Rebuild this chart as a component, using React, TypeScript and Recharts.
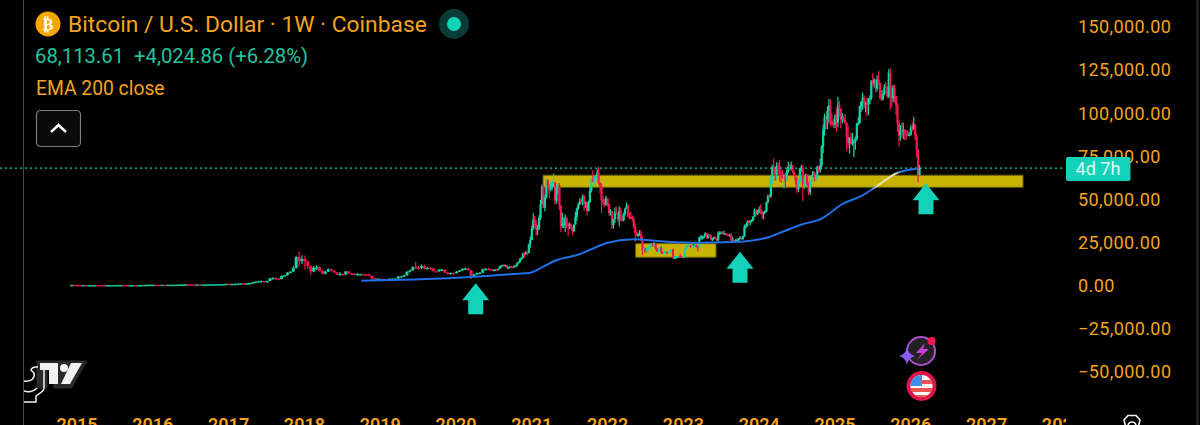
import React from 'react';
import { ComposedChart, Bar, Line, XAxis, YAxis, ReferenceArea, ReferenceLine, ReferenceDot } from 'recharts';

// prices are in thousands of USD
const UP = '#17d1a7';
const DOWN = '#f0174f';
const ORANGE = '#f5a31f';
const TEAL = '#12d3b9';

const priceTicks = [150, 125, 100, 75, 50, 25, 0, -25, -50];
const yearTicks = [2015, 2016, 2017, 2018, 2019, 2020, 2021, 2022, 2023, 2024, 2025, 2026, 2027, 2028];

// two-week candles, end of 2014 to mid 2020
const earlyStart = 2014.93;
const earlyCloses = [
  0.37, 0.32,
  0.27, 0.22, 0.25, 0.24, 0.24, 0.27, 0.28, 0.25, 0.24, 0.22, 0.24, 0.24, 0.24, 0.25, 0.28, 0.29, 0.28, 0.23, 0.23, 0.25, 0.24, 0.24, 0.32, 0.36, 0.42, 0.43,
  0.43, 0.38, 0.37, 0.43, 0.41, 0.42, 0.42, 0.44, 0.46, 0.53, 0.58, 0.68, 0.66, 0.65, 0.58, 0.59, 0.57, 0.61, 0.61, 0.63, 0.65, 0.7, 0.74, 0.75, 0.79, 0.96,
  0.9, 0.92, 1.0, 1.15, 1.25, 1.1, 1.2, 1.35, 1.8, 2.2, 2.5, 2.6, 2.5, 2.6, 4.1, 4.3, 4.0, 3.8, 5.6, 6.0, 7.4, 8.0, 10.0, 16.5, 14.0, 15.5,
  14.0, 11.2, 8.2, 10.3, 10.5, 8.5, 6.9, 8.0, 9.4, 8.7, 7.6, 6.4, 6.7, 6.4, 8.2, 7.0, 6.9, 6.5, 6.6, 6.6, 6.5, 6.4, 5.6, 4.0, 3.4, 3.9,
  3.6, 3.6, 3.5, 3.9, 3.9, 4.0, 5.2, 5.3, 5.8, 8.0, 8.7, 10.7, 10.5, 10.3, 11.3, 9.7, 10.2, 10.0, 8.3, 8.2, 9.2, 9.2, 7.4, 7.2, 7.3, 7.2,
  8.0, 8.7, 9.7, 9.9, 8.9, 5.2, 6.4, 7.2, 7.5, 9.3, 9.7, 9.3, 9.1,
];
const earlyHighs = [
  0.4, 0.36,
  0.34, 0.28, 0.27, 0.26, 0.26, 0.3, 0.3, 0.29, 0.26, 0.26, 0.25, 0.25, 0.25, 0.26, 0.3, 0.32, 0.3, 0.29, 0.25, 0.26, 0.26, 0.26, 0.34, 0.4, 0.5, 0.47,
  0.46, 0.44, 0.4, 0.45, 0.44, 0.44, 0.44, 0.46, 0.47, 0.55, 0.6, 0.78, 0.7, 0.68, 0.67, 0.62, 0.6, 0.62, 0.63, 0.64, 0.66, 0.72, 0.75, 0.78, 0.8, 0.98,
  1.15, 0.95, 1.03, 1.2, 1.3, 1.25, 1.25, 1.4, 1.9, 2.3, 2.8, 2.95, 2.75, 2.8, 4.4, 4.9, 4.8, 4.3, 5.9, 6.2, 7.8, 8.3, 11.2, 17.2, 19.8, 17.5,
  17.3, 14.3, 11.7, 11.3, 11.8, 10.9, 9.0, 8.6, 10.0, 9.9, 8.9, 7.7, 7.8, 6.9, 8.3, 8.3, 7.4, 7.1, 7.3, 6.9, 6.8, 6.6, 6.6, 5.7, 4.4, 4.2,
  4.0, 3.8, 3.7, 4.2, 4.2, 4.2, 5.4, 5.6, 6.3, 8.3, 9.2, 11.2, 13.8, 11.4, 12.3, 12.1, 10.9, 10.9, 10.4, 8.6, 9.4, 9.7, 9.5, 7.7, 7.5, 7.6,
  8.4, 8.9, 9.9, 10.5, 10.3, 9.2, 6.9, 7.5, 7.7, 9.9, 10.0, 10.4, 9.5,
];
const earlyLows = [
  0.35, 0.31,
  0.17, 0.21, 0.21, 0.22, 0.23, 0.24, 0.24, 0.24, 0.22, 0.21, 0.22, 0.23, 0.23, 0.23, 0.25, 0.27, 0.27, 0.22, 0.21, 0.22, 0.23, 0.23, 0.24, 0.31, 0.36, 0.4,
  0.4, 0.36, 0.36, 0.37, 0.39, 0.41, 0.41, 0.41, 0.44, 0.45, 0.52, 0.57, 0.62, 0.63, 0.53, 0.56, 0.55, 0.57, 0.6, 0.6, 0.62, 0.63, 0.69, 0.7, 0.73, 0.78,
  0.75, 0.88, 0.9, 0.98, 1.1, 1.05, 1.05, 1.15, 1.3, 1.7, 2.1, 2.2, 2.2, 2.3, 2.6, 3.9, 3.6, 3.0, 3.6, 5.3, 5.6, 7.1, 7.8, 10.0, 11.0, 12.5,
  9.4, 9.6, 6.0, 7.7, 9.0, 7.9, 6.5, 6.4, 7.8, 8.2, 7.1, 6.1, 5.8, 6.0, 6.1, 6.8, 6.4, 6.2, 6.1, 6.3, 6.2, 6.2, 5.3, 3.4, 3.2, 3.2,
  3.4, 3.4, 3.3, 3.4, 3.7, 3.8, 3.9, 5.0, 5.2, 5.8, 7.5, 8.6, 9.6, 9.1, 9.4, 9.3, 9.5, 9.4, 8.1, 7.8, 8.0, 8.9, 7.3, 6.5, 6.5, 6.9,
  6.9, 8.0, 8.5, 9.6, 8.6, 3.8, 5.0, 6.2, 6.6, 7.0, 8.8, 9.2, 8.9,
];

// weekly candles from mid 2020, one set per year
const closes2020 = [9.1, 9.3, 9.2, 9.7, 11.0, 11.3, 11.9, 11.6, 11.7, 10.2, 10.3, 11.1, 10.7, 10.6, 11.3, 11.4, 13.1, 13.8, 15.5, 16.0, 18.7, 18.2, 19.2, 18.8, 23.8, 26.4];
const highs2020 = [9.4, 9.4, 9.4, 9.8, 11.4, 11.9, 12.1, 12.5, 12.1, 11.8, 10.6, 11.2, 11.2, 10.9, 11.7, 11.7, 13.2, 13.9, 15.9, 16.5, 18.9, 19.4, 19.9, 19.5, 24.3, 28.4];
const lows2020 = [8.9, 8.9, 9.0, 9.0, 9.6, 10.6, 11.1, 11.3, 11.1, 9.9, 9.9, 10.2, 10.1, 10.4, 10.5, 11.2, 11.3, 12.8, 13.2, 14.8, 15.7, 16.2, 17.6, 17.6, 18.7, 21.9];

const closes2021 = [33.0, 38.2, 35.8, 32.3, 33.1, 39.2, 47.2, 57.5, 45.2, 50.9, 61.0, 58.1, 55.8, 58.7, 59.8, 60.0, 49.1, 56.6, 58.2, 46.4, 34.7, 35.6, 35.8, 39.0, 35.6, 34.6, 35.3, 34.2, 31.5, 35.4, 39.9, 44.6, 47.0, 49.0, 48.8, 51.7, 48.3, 48.3, 43.2, 48.2, 55.0, 61.5, 60.9, 61.3, 63.2, 65.5, 59.7, 57.3, 49.4, 49.3, 46.9, 50.8];
const highs2021 = [34.8, 42.0, 40.1, 38.0, 34.9, 40.9, 49.7, 58.4, 58.3, 52.6, 61.8, 61.7, 58.7, 60.1, 61.2, 64.9, 57.5, 58.5, 59.6, 59.5, 46.7, 42.2, 39.4, 41.3, 39.6, 36.5, 36.6, 35.9, 33.3, 35.4, 42.7, 45.2, 48.0, 50.6, 50.5, 52.9, 52.9, 48.8, 48.5, 49.2, 57.9, 62.9, 66.9, 63.6, 64.2, 67.8, 69.0, 60.0, 59.2, 51.9, 50.2, 52.0];
const lows2021 = [28.0, 32.2, 33.4, 28.9, 29.2, 32.3, 38.0, 47.0, 44.9, 43.0, 50.3, 53.2, 50.5, 54.6, 55.5, 59.0, 47.0, 47.5, 53.0, 43.8, 31.0, 33.3, 33.4, 31.0, 33.3, 28.8, 32.7, 32.2, 29.3, 31.0, 35.5, 37.5, 43.8, 46.6, 47.0, 46.5, 43.4, 45.0, 40.7, 42.9, 48.0, 54.0, 60.0, 58.0, 60.0, 62.3, 58.4, 53.3, 42.0, 46.5, 45.6, 46.4];

const closes2022 = [47.3, 42.0, 43.1, 35.0, 38.4, 42.4, 42.2, 38.4, 43.2, 38.4, 37.8, 41.3, 44.5, 46.4, 40.0, 39.7, 39.5, 38.5, 34.3, 30.3, 29.4, 29.4, 29.9, 26.6, 20.5, 21.0, 19.3, 20.9, 21.2, 22.6, 23.6, 23.2, 24.3, 21.5, 19.6, 20.0, 21.8, 19.4, 18.8, 19.0, 19.4, 19.3, 19.6, 20.6, 20.9, 16.3, 16.3, 16.4, 17.1, 17.1, 16.8, 16.5];
const highs2022 = [48.5, 47.6, 44.4, 43.5, 38.7, 45.4, 45.8, 40.5, 45.9, 45.1, 40.4, 42.3, 45.0, 48.2, 47.2, 42.4, 42.9, 40.8, 40.0, 35.9, 32.0, 30.7, 32.2, 31.8, 28.2, 21.9, 22.0, 21.7, 22.8, 24.3, 24.7, 24.6, 25.2, 24.4, 21.8, 20.8, 22.7, 22.8, 19.7, 20.4, 20.0, 20.0, 19.7, 21.0, 21.0, 21.5, 17.2, 16.9, 17.2, 17.4, 18.4, 16.9];
const lows2022 = [45.5, 40.5, 40.6, 33.0, 33.0, 36.3, 41.5, 36.8, 34.3, 37.5, 37.2, 37.2, 40.5, 45.0, 39.8, 38.5, 38.5, 37.6, 33.0, 25.4, 28.7, 28.0, 28.8, 25.9, 17.6, 19.6, 18.8, 19.0, 20.7, 21.0, 22.5, 22.7, 23.0, 20.8, 19.5, 18.6, 19.5, 18.2, 18.2, 18.6, 18.7, 18.2, 18.5, 19.0, 20.1, 15.6, 15.5, 15.5, 16.0, 16.7, 16.3, 16.4];

const closes2023 = [16.7, 20.9, 22.7, 23.1, 23.4, 22.9, 24.3, 23.2, 23.5, 22.4, 22.0, 27.9, 28.0, 28.4, 28.4, 30.3, 27.8, 29.2, 28.9, 26.9, 27.0, 28.1, 27.1, 26.3, 30.5, 30.5, 30.6, 30.3, 30.3, 30.0, 29.3, 29.0, 29.3, 26.0, 26.0, 25.8, 26.5, 26.5, 27.0, 27.9, 26.9, 28.5, 34.1, 34.5, 37.0, 36.5, 37.4, 37.7, 39.9, 43.8, 41.4, 42.3];
const highs2023 = [16.9, 21.3, 23.3, 23.8, 24.2, 23.5, 25.0, 25.2, 24.0, 23.9, 22.5, 28.4, 29.2, 29.2, 28.8, 30.9, 30.5, 30.0, 29.9, 29.8, 27.6, 28.5, 28.4, 27.4, 31.4, 31.4, 31.4, 31.5, 31.8, 30.4, 30.3, 29.7, 30.2, 30.2, 28.1, 26.4, 26.9, 27.4, 27.5, 28.6, 28.3, 28.9, 35.3, 35.9, 38.0, 37.9, 37.9, 38.4, 40.2, 44.7, 44.4, 43.8];
const lows2023 = [16.3, 16.7, 20.8, 22.3, 22.5, 21.7, 21.4, 23.0, 21.9, 21.9, 19.6, 22.0, 26.6, 26.5, 27.2, 28.3, 27.2, 27.1, 27.7, 26.3, 26.0, 26.6, 26.9, 25.4, 25.0, 29.5, 30.0, 29.9, 29.6, 29.1, 29.0, 28.9, 28.7, 25.4, 25.4, 25.3, 25.1, 26.4, 26.0, 26.6, 26.6, 26.5, 28.1, 33.4, 34.1, 36.3, 34.9, 36.7, 37.6, 39.9, 40.5, 41.0];

const closes2024 = [44.2, 42.8, 41.6, 42.0, 43.0, 48.3, 52.1, 51.7, 62.0, 68.9, 68.4, 64.0, 69.6, 69.3, 65.7, 64.9, 63.4, 64.0, 60.9, 66.3, 69.0, 67.7, 69.6, 66.2, 64.0, 60.9, 55.9, 60.8, 68.1, 68.3, 58.1, 58.7, 64.2, 59.1, 54.1, 60.0, 63.4, 65.7, 62.8, 62.9, 69.0, 67.0, 69.5, 80.4, 90.5, 97.7, 96.4, 101.2, 104.5, 95.2, 93.7, 93.4];
const highs2024 = [45.9, 47.0, 43.5, 42.9, 43.9, 48.6, 52.8, 52.9, 64.0, 70.1, 73.8, 68.9, 71.6, 71.3, 72.8, 66.9, 67.2, 64.7, 65.5, 67.4, 71.9, 70.6, 71.9, 70.0, 66.7, 63.8, 62.9, 61.4, 68.4, 70.0, 69.9, 62.0, 65.0, 64.9, 59.9, 60.7, 64.1, 66.5, 66.0, 64.5, 69.5, 69.5, 73.6, 81.5, 93.4, 99.8, 98.9, 104.0, 108.3, 108.0, 99.9, 96.4];
const lows2024 = [42.2, 41.4, 38.5, 38.5, 41.9, 42.5, 47.7, 50.5, 50.9, 59.2, 64.5, 60.8, 61.6, 64.5, 60.6, 59.6, 62.0, 56.5, 56.9, 60.5, 65.2, 66.6, 66.6, 65.1, 63.4, 58.5, 53.5, 54.3, 59.6, 66.0, 49.1, 56.2, 57.8, 57.9, 52.6, 52.5, 57.6, 62.6, 60.4, 59.8, 62.1, 65.3, 65.5, 67.5, 76.8, 87.1, 90.8, 90.7, 94.1, 92.3, 92.5, 91.3];

const closes2025 = [98.3, 94.5, 104.5, 102.6, 96.4, 97.5, 96.1, 94.3, 86.2, 82.6, 86.0, 82.4, 83.5, 83.7, 85.2, 93.7, 94.3, 104.2, 106.5, 109.0, 105.7, 105.7, 105.6, 108.3, 108.9, 119.0, 117.3, 119.4, 114.2, 119.3, 117.4, 108.3, 108.2, 111.1, 115.4, 115.3, 109.7, 123.5, 115.0, 108.6, 114.5, 110.1, 104.7, 94.2, 87.0, 90.4, 89.3, 90.3, 88.1, 87.8, 87.5, 87.6];
const highs2025 = [99.5, 102.7, 109.6, 107.1, 102.5, 100.1, 98.8, 99.5, 95.0, 92.8, 85.3, 88.7, 88.6, 84.7, 86.4, 94.5, 97.9, 104.4, 107.1, 111.9, 110.4, 106.7, 108.9, 108.8, 110.5, 119.0, 123.2, 120.2, 120.0, 122.0, 124.5, 117.7, 113.4, 113.4, 116.8, 118.0, 115.4, 125.5, 126.2, 115.9, 116.4, 116.4, 107.5, 106.0, 96.0, 93.1, 94.2, 94.6, 90.6, 90.5, 90.2, 89.0];
const lows2025 = [91.3, 89.2, 91.8, 97.8, 91.2, 94.1, 94.8, 93.4, 78.2, 80.0, 76.6, 81.7, 81.2, 74.5, 78.7, 83.9, 92.9, 93.6, 100.7, 102.0, 103.1, 100.4, 98.2, 99.0, 105.1, 107.5, 115.7, 114.7, 112.0, 112.7, 116.8, 108.8, 107.3, 107.3, 110.5, 114.3, 108.7, 108.7, 102.0, 103.5, 106.3, 106.0, 98.9, 89.2, 80.6, 84.0, 86.0, 85.0, 84.3, 84.5, 86.5, 86.6];

const closes2026 = [91.5, 90.5, 93.6, 86.6, 78.6, 64.09, 68.11];
const highs2026 = [93.0, 94.8, 97.9, 91.0, 88.0, 79.3, 70.0];
const lows2026 = [86.9, 89.3, 92.5, 84.5, 74.5, 59.9, 63.8];

const weeklyYears = [
  { start: 2020.5, closes: closes2020, highs: highs2020, lows: lows2020 },
  { start: 2021, closes: closes2021, highs: highs2021, lows: lows2021 },
  { start: 2022, closes: closes2022, highs: highs2022, lows: lows2022 },
  { start: 2023, closes: closes2023, highs: highs2023, lows: lows2023 },
  { start: 2024, closes: closes2024, highs: highs2024, lows: lows2024 },
  { start: 2025, closes: closes2025, highs: highs2025, lows: lows2025 },
  { start: 2026, closes: closes2026, highs: highs2026, lows: lows2026 },
];

// EMA 200 close
const emaTimes = [2018.75, 2019.52, 2020.25, 2020.8, 2020.98, 2021.15, 2021.33, 2021.6, 2021.86, 2021.99, 2022.33, 2022.78, 2023.18, 2023.65, 2024.1, 2024.31, 2024.54, 2024.83, 2025.1, 2025.37, 2025.53, 2025.82, 2026.08];
const emaValues = [2.8, 3.6, 5.1, 6.8, 7.4, 10.9, 14.8, 17.7, 22.5, 24.7, 26.8, 25.4, 24.8, 25.2, 27.7, 31.2, 35.1, 39.0, 47.3, 52.5, 57.0, 65.3, 67.8];

const buildRows = () => {
  const rows: any[] = [];
  let prev = earlyCloses[0];
  const push = (t: number, close: number, high: number, low: number) => {
    rows.push({ t, open: prev, close, high, low, range: [low, high] });
    prev = close;
  };
  earlyCloses.forEach((c, i) => push(earlyStart + i / 26, c, earlyHighs[i], earlyLows[i]));
  weeklyYears.forEach((y) => {
    y.closes.forEach((c, i) => push(y.start + i / 52.18, c, y.highs[i], y.lows[i]));
  });
  emaTimes.forEach((t, i) => rows.push({ t, ema: emaValues[i] }));
  return rows.sort((a, b) => a.t - b.t);
};

const rows = buildRows();

const Candle = (props: any) => {
  const { x, y, width, height, payload } = props;
  if (!payload || payload.low === undefined) return null;
  const { t, open, close, high, low } = payload;
  const perUnit = height / (high - low || 1);
  const top = y + (high - Math.max(open, close)) * perUnit;
  const bodyH = Math.max(Math.abs(open - close) * perUnit, 1.4);
  const color = close >= open ? UP : DOWN;
  const cx = x + width / 2;
  // the two-week candles stand in for two bars, so they get a wider body
  const bodyW = t < 2020.5 ? 3 : 2.2;
  return (
    <g>
      <rect x={cx - 0.6} y={y} width={1.2} height={Math.max(height, 1)} fill={color} />
      <rect x={cx - bodyW / 2} y={top} width={bodyW} height={bodyH} fill={color} />
    </g>
  );
};

const Arrow = ({ cx, cy }: any) => (
  <path
    d={`M${cx} ${cy} L${cx + 13.5} ${cy + 17} H${cx + 7.5} V${cy + 31} H${cx - 7.5} V${cy + 17} H${cx - 13.5} Z`}
    fill={TEAL}
  />
);

const YearTick = ({ x, y, payload }: any) => (
  <text
    x={x}
    y={y + 23}
    textAnchor="middle"
    fill={ORANGE}
    fontSize={18}
    fontWeight={600}
    fontFamily="Roboto, sans-serif"
    clipPath="url(#timeClip)"
  >
    {payload.value}
  </text>
);

const formatPrice = (v: number) => {
  const text = Math.abs(v * 1000).toLocaleString('en-US', { minimumFractionDigits: 2 });
  return v < 0 ? `\u2212${text}` : text;
};

const Overlay = () => (
  <svg
    width={1200}
    height={425}
    style={{ position: 'absolute', left: 0, top: 0 }}
    fontFamily="Roboto, sans-serif"
  >
    <line x1={23.5} y1={0} x2={23.5} y2={425} stroke="#4a4a4a" />
    <line x1={1197.5} y1={0} x2={1197.5} y2={425} stroke="#2c2c2c" strokeWidth={2} />

    <circle cx={48} cy={24} r={12.5} fill="#f7a600" />
    <text x={48} y={30} textAnchor="middle" fill="#fff" fontSize={16} fontWeight={700} fontFamily="DejaVu Sans">₿</text>
    <text x={68} y={32} fill={ORANGE} fontSize={22.8}>Bitcoin / U.S. Dollar · 1W · Coinbase</text>
    <circle cx={454} cy={24} r={15} fill="#0c3a34" />
    <circle cx={454} cy={24} r={7} fill={TEAL} />

    <text x={35} y={63} fill="#20c4a4" fontSize={20.3}>68,113.61</text>
    <text x={134} y={63} fill="#20c4a4" fontSize={20.3}>+4,024.86 (+6.28%)</text>
    <text x={36} y={95} fill={ORANGE} fontSize={19.3}>EMA 200 close</text>

    <rect x={36.5} y={110.5} width={44} height={36} rx={4} fill="#0a0a0a" stroke="#7a7a7a" strokeWidth={1.2} />
    <path d="M51 132 L58.5 125 L66 132" fill="none" stroke="#fff" strokeWidth={2.4} />

    {/* watermark */}
    <path d="M38 362 H85 L71 387 H55 L55 369 H46 V387 H38 Z" fill="#2a2a2a" stroke="#2a2a2a" strokeWidth={3} />
    <path d="M40 363 H58 V384 H49 V370 H40 Z" fill="#f2f2f2" />
    <circle cx={64} cy={368} r={4} fill="#f2f2f2" />
    <path d="M71 363 H82 L70 384 H61 Z" fill="#f2f2f2" />
    <path d="M24 381 C32 382 35 378 34 373 L31 370 C32 366 36 367 38 367 M44 367 V388 C44 392 38 394 36 396 V402 H24 M37 388 C34 391 30 393 24 391" fill="none" stroke="#f2f2f2" strokeWidth={1.5} />

    {/* countdown label */}
    <rect x={1066} y={157} width={64.5} height={24} rx={2} fill={TEAL} />
    <text x={1098} y={175} textAnchor="middle" fill="#dffcf5" fontSize={18}>4d 7h</text>

    {/* event icons */}
    <circle cx={921} cy={351} r={14} fill="#222" stroke="#b04fd0" strokeWidth={2} />
    <path d="M925 343 L916 353 H922 L917 360 L929 349 H923 Z" fill="#c93fd8" />
    <circle cx={931.5} cy={341} r={4} fill="#f0174f" />
    <path d="M907 347 Q908 354 915 356 Q908 358 907 365 Q906 358 899 356 Q906 354 907 347 Z" fill="#8a5cf0" />

    <circle cx={921.5} cy={386} r={15} fill="#e0144c" />
    <clipPath id="flagClip"><circle cx={921.5} cy={386} r={11} /></clipPath>
    <g clipPath="url(#flagClip)">
      <rect x={910} y={375} width={23} height={22} fill="#f9f9f9" />
      <rect x={910} y={380} width={23} height={4} fill="#ef5350" />
      <rect x={910} y={388} width={23} height={4} fill="#ef5350" />
      <rect x={910} y={395} width={23} height={3} fill="#ef5350" />
      <rect x={910} y={375} width={12} height={11} fill="#3f8fe8" />
    </g>

    {/* settings hexagon, cut by the frame */}
    <path d="M1126 428 L1124 420 L1128 415.5 H1136 L1140 420 L1138 428" fill="none" stroke="#f2f2f2" strokeWidth={1.6} />
    <circle cx={1132} cy={426} r={4} fill="none" stroke="#f2f2f2" strokeWidth={1.6} />
  </svg>
);

const App = () => (
  <div style={{ position: 'absolute', left: 0, top: 0, width: 1200, height: 425, background: '#000', overflow: 'hidden' }}>
    <ComposedChart
      width={1200}
      height={425}
      data={rows}
      margin={{ top: 0, right: 0, bottom: 0, left: 0 }}
    >
      <defs>
        <clipPath id="timeClip"><rect x={0} y={0} width={1066} height={425} /></clipPath>
        {/* the line reads pale where it crosses the yellow zone */}
        <linearGradient id="emaStroke" gradientUnits="userSpaceOnUse" x1={0} y1={0} x2={1065} y2={0}>
          <stop offset="0.818" stopColor="#1f6fe6" />
          <stop offset="0.824" stopColor="#e6e4b8" />
          <stop offset="0.84" stopColor="#e6e4b8" />
          <stop offset="0.846" stopColor="#1f6fe6" />
        </linearGradient>
      </defs>
      <XAxis
        dataKey="t"
        type="number"
        domain={[2013.984, 2028.034]}
        ticks={yearTicks}
        interval={0}
        height={25}
        axisLine={false}
        tickLine={false}
        tick={<YearTick />}
        allowDataOverflow
      />
      <YAxis
        orientation="right"
        width={135}
        type="number"
        domain={[-66.44, 165.67]}
        ticks={priceTicks}
        interval={0}
        axisLine={false}
        tickLine={false}
        tickSize={0}
        tickMargin={13}
        tickFormatter={formatPrice}
        tick={{ fill: ORANGE, fontSize: 18, fontFamily: 'Roboto, sans-serif', letterSpacing: 0.4 }}
        allowDataOverflow
      />
      <ReferenceArea x1={2021.148} x2={2027.48} y1={57} y2={64} fill="#c8b400" fillOpacity={1} stroke="#6f6400" strokeWidth={1} />
      <ReferenceArea x1={2022.37} x2={2023.43} y1={16.4} y2={24.3} fill="#c8b400" fillOpacity={1} stroke="#6f6400" strokeWidth={1} />
      <ReferenceLine
        segment={[{ x: 2013.984, y: 68.11 }, { x: 2027.995, y: 68.11 }]}
        stroke={TEAL}
        strokeDasharray="2 3"
        strokeWidth={1.4}
      />
      <Bar dataKey="range" barSize={2} shape={<Candle />} isAnimationActive={false} />
      <Line
        dataKey="ema"
        type="monotone"
        connectNulls
        dot={false}
        stroke="url(#emaStroke)"
        strokeWidth={2}
        isAnimationActive={false}
      />
      <ReferenceDot x={2020.26} y={1.3} shape={<Arrow />} ifOverflow="visible" />
      <ReferenceDot x={2023.747} y={19.6} shape={<Arrow />} ifOverflow="visible" />
      <ReferenceDot x={2026.2} y={59.3} shape={<Arrow />} ifOverflow="visible" />
    </ComposedChart>
    <Overlay />
  </div>
);

export default App;
